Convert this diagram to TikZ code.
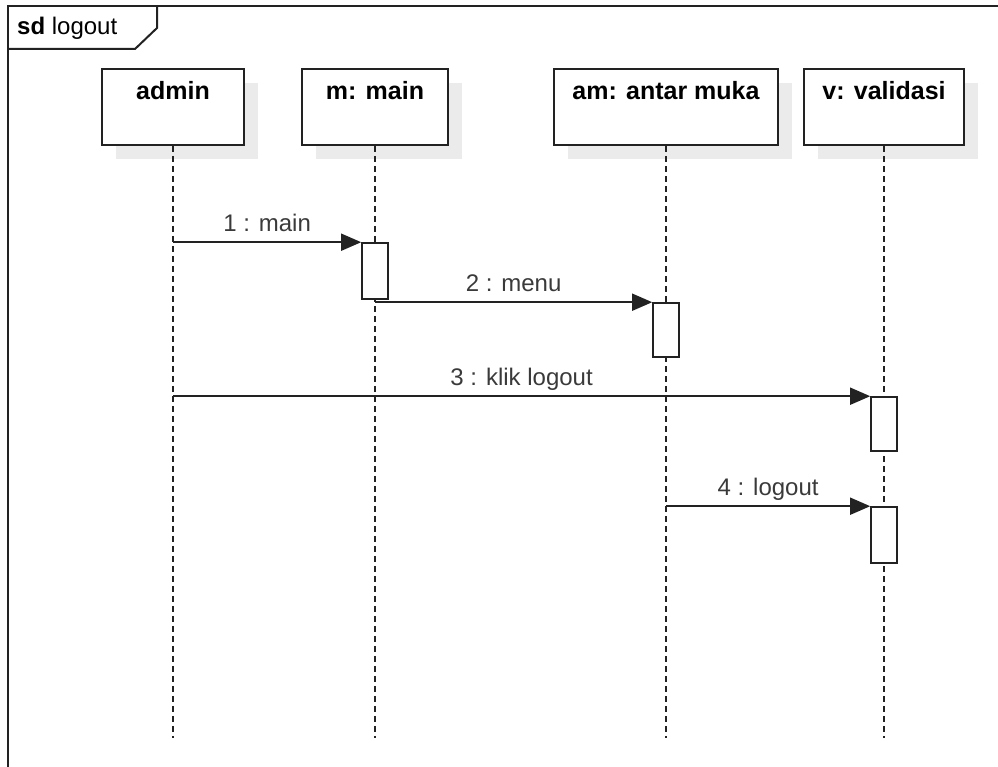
\documentclass[tikz,border=0pt]{standalone}
\usepackage{fontspec}
\setmainfont{Liberation Sans}
\usetikzlibrary{arrows.meta,positioning,shadows}
\definecolor{ink}{HTML}{222222}
\definecolor{labelgray}{HTML}{3A3A3A}
\definecolor{shade}{HTML}{EBEBEB}
\tikzset{
  >={Triangle[length=20pt,width=17pt]},
  frameline/.style={draw=ink,line width=2pt},
  lifebox/.style={draw=ink,line width=1.6pt,fill=white,inner sep=0pt,
    minimum height=76pt,text height=31pt,text depth=45pt,
    font=\fontsize{25}{30}\selectfont\bfseries,
    drop shadow={shadow xshift=14pt,shadow yshift=-14pt,fill=shade,opacity=1}},
  actbar/.style={draw=ink,line width=1.6pt,fill=white,inner sep=0pt,
    minimum width=26pt,minimum height=55pt},
  lifeline/.style={draw=ink,line width=1.5pt,dash pattern=on 6pt off 4pt},
  msg/.style={->,draw=ink,line width=1.6pt},
  msglabel/.style={anchor=base,yshift=11pt,text=labelgray,
    font=\fontsize{24}{28}\selectfont}
}

\begin{document}
\begin{tikzpicture}[x=1pt,y=-1pt]
  \useasboundingbox (0,0) rectangle (998,767);
  \clip (0,0) rectangle (998,767);
  % frame with its tab
  \draw[frameline] (8,780) -- (8,6) -- (1010,6) -- (1010,780);
  \draw[frameline] (8,49) -- (135,49) -- (157,28) -- (157,6);
  \node[anchor=base west,inner sep=0pt,font=\fontsize{24}{28}\selectfont] (title) at (17,35) {\textbf{sd} logout};

  \node[lifebox,minimum width=142pt] (admin) at (173,107) {admin};
  \node[lifebox,minimum width=146pt] (main) at (375,107) {m: main};
  \node[lifebox,minimum width=224pt] (ui) at (666,107) {am: antar muka};
  \node[lifebox,minimum width=160pt] (valid) at (884,107) {v: validasi};

  \coordinate (bottom) at (0,738);
  \draw[lifeline] (admin.south) -- (admin.south |- bottom);
  \draw[lifeline] (main.south) -- (main.south |- bottom);
  \draw[lifeline] (ui.south) -- (ui.south |- bottom);
  \draw[lifeline] (valid.south) -- (valid.south |- bottom);

  \node[actbar,minimum height=56pt] (act1) at (375,271) {};
  \node[actbar,minimum height=54pt] (act2) at (666,330) {};
  \node[actbar,minimum height=54pt] (act3) at (884,424) {};
  \node[actbar,minimum height=56pt] (act4) at (884,535) {};

  \draw[msg] (admin.south |- act1.north) -- (act1.north west) node[msglabel,midway] {1 : main};
  \draw[msg] (act1.south |- act2.north) -- (act2.north west) node[msglabel,midway] {2 : menu};
  \draw[msg] (admin.south |- act3.north) -- (act3.north west) node[msglabel,midway] {3 : klik logout};
  \draw[msg] (ui.south |- act4.north) -- (act4.north west) node[msglabel,midway] {4 : logout};
\end{tikzpicture}
\end{document}
